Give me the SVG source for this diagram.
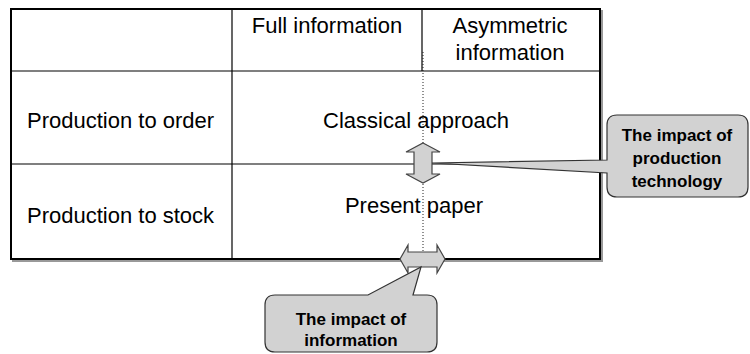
<svg xmlns="http://www.w3.org/2000/svg" width="750" height="354" viewBox="0 0 750 354">
<style>
  .t { font-family: "Liberation Sans", Arial, sans-serif; font-size: 22px; fill: #000; }
  .c { font-family: "Liberation Sans", Arial, sans-serif; font-size: 17px; font-weight: bold; fill: #000; text-anchor: middle; }
  .grid { stroke: #000; stroke-width: 1.2; fill: none; }
  .callout { fill: #d2d2d2; stroke: #333; stroke-width: 1.2; }
  .arrow { fill: #d2d2d2; stroke: #444; stroke-width: 1.2; }
</style>
<rect width="750" height="354" fill="#fff"/>
<g id="table">
  <rect x="13" y="11" width="589" height="250" fill="none" stroke="#999" stroke-width="2"/>
  <rect x="11" y="9" width="589" height="250" fill="#fff" stroke="#000" stroke-width="2"/>
  <line class="grid" x1="232" y1="9" x2="232" y2="259"/>
  <line class="grid" x1="422" y1="9" x2="422" y2="71"/>
  <line class="grid" x1="11" y1="71" x2="600" y2="71"/>
  <line class="grid" x1="11" y1="164" x2="600" y2="164"/>
  <line x1="423" y1="52" x2="423" y2="254" stroke="#222" stroke-width="1" stroke-dasharray="1,2"/>
</g>
<g id="header-full"><text class="t" x="327" y="33" text-anchor="middle">Full information</text></g>
<g id="header-asym"><text class="t" x="510" y="33" text-anchor="middle">Asymmetric</text><text class="t" x="510" y="60" text-anchor="middle">information</text></g>
<g id="row-order"><text class="t" x="27" y="128">Production to order</text></g>
<g id="row-stock"><text class="t" x="27" y="223">Production to stock</text></g>
<g id="cell-classical"><text class="t" x="416" y="128" text-anchor="middle">Classical approach</text></g>
<g id="cell-present"><text class="t" x="414" y="213" text-anchor="middle">Present paper</text></g>
<g id="connectors">
  <polygon class="arrow" points="423,143 440,152 432,152 432,174 440,174 423,183 406,174 414,174 414,152 406,152"/>
  <polygon class="arrow" points="400,259 408,245 408,252 437,252 437,245 445,259 437,273 437,267 408,267 408,273"/>
</g>
<g id="callout-technology">
  <path class="callout" d="M617,115 L738,115 Q748,115 748,125 L748,187 Q748,197 738,197 L617,197 Q607,197 607,187 L607,173 L432,163 L607,160 L607,125 Q607,115 617,115 Z"/>
  <text class="c" x="677" y="141">The impact of</text>
  <text class="c" x="677" y="164">production</text>
  <text class="c" x="677" y="187">technology</text>
</g>
<g id="callout-information">
  <path class="callout" d="M275,295 L368,295 L421,267 L413,295 L427,295 Q437,295 437,305 L437,342 Q437,352 427,352 L275,352 Q265,352 265,342 L265,305 Q265,295 275,295 Z"/>
  <text class="c" x="351" y="325">The impact of</text>
  <text class="c" x="351" y="346">information</text>
</g>
</svg>
